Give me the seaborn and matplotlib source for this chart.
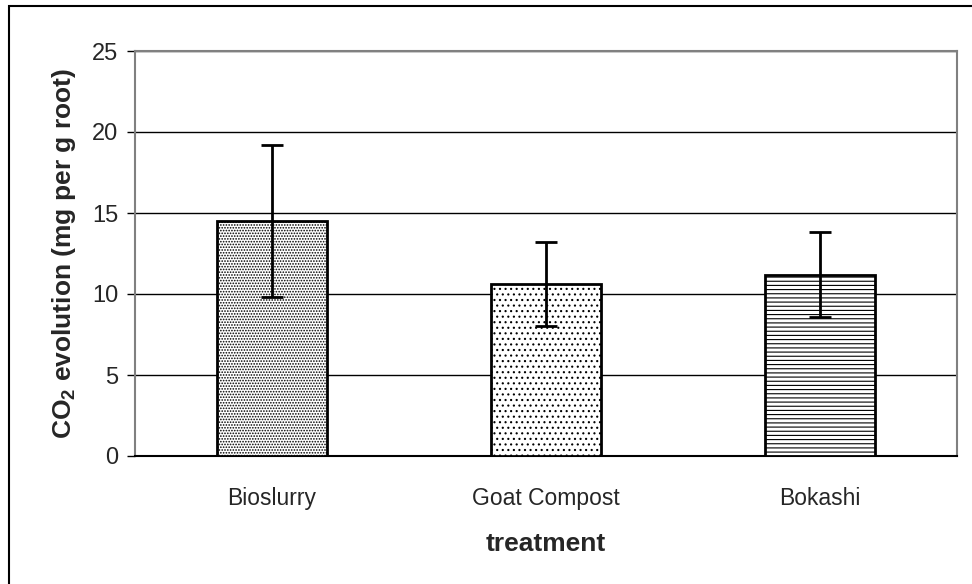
import pandas as pd
import matplotlib
matplotlib.use('Agg')
import matplotlib.pyplot as plt
import seaborn as sns
from matplotlib.patches import Rectangle

# Data
treatments = ['Bioslurry', 'Goat Compost', 'Bokashi']
co2_mean = [14.5, 10.6, 11.2]
co2_err = [4.7, 2.6, 2.6]
hatches = ['......', '...', '----']

df = pd.DataFrame({'treatment': treatments, 'co2': co2_mean})

sns.set_style('white')
plt.rcParams['font.family'] = ['Liberation Sans', 'DejaVu Sans']
plt.rcParams['mathtext.fontset'] = 'custom'
plt.rcParams['mathtext.rm'] = 'Liberation Sans:bold'
plt.rcParams['mathtext.default'] = 'rm'
plt.rcParams['hatch.color'] = '#808080'
plt.rcParams['hatch.linewidth'] = 0.8

fig = plt.figure(figsize=(9.72, 5.84), dpi=100)
ax = fig.add_axes([135 / 972, 128 / 584, 822 / 972, 405 / 584])

sns.barplot(data=df, x='treatment', y='co2', color='white', width=0.4,
            edgecolor='black', linewidth=2, ax=ax, zorder=3)
for patch, h in zip(ax.patches, hatches):
    patch.set_hatch(h)

ax.errorbar(range(len(treatments)), co2_mean, yerr=co2_err, fmt='none',
            ecolor='black', elinewidth=2, capsize=8, capthick=2, zorder=4)

ax.set_ylim(0, 25)
ax.set_xlim(-0.5, 2.5)
ax.set_yticks([0, 5, 10, 15, 20, 25])
ax.yaxis.grid(True, color='black', linewidth=1, zorder=0)
ax.set_axisbelow(True)

ax.set_xticks([0, 1, 2])
ax.set_xticks([-0.5, 0.5, 1.5, 2.5], minor=True)
ax.tick_params(axis='x', which='major', length=0, pad=22, labelsize=16.5)
ax.tick_params(axis='x', which='minor', length=6, width=1, color='black', direction='out')
ax.tick_params(axis='y', length=6, width=1, color='black', direction='out',
               pad=6, left=True, labelsize=17)

for s in ['top', 'right', 'left']:
    ax.spines[s].set_color('#808080')
    ax.spines[s].set_linewidth(1.5)
ax.spines['bottom'].set_color('black')
ax.spines['bottom'].set_linewidth(1.5)

ax.set_xlabel('treatment', fontsize=19, fontweight='bold', labelpad=16)
ax.set_ylabel(r'CO$_{2}$ evolution (mg per g root)', fontsize=19,
              fontweight='bold', labelpad=10)

# outer chart border (left and top edges visible)
fig.patches.append(Rectangle((9 / 972, -0.05), 1.1, 0.05 + (584 - 6) / 584,
                             transform=fig.transFigure, fill=False,
                             edgecolor='black', linewidth=1.5))

fig.savefig('out.png', dpi=100)
